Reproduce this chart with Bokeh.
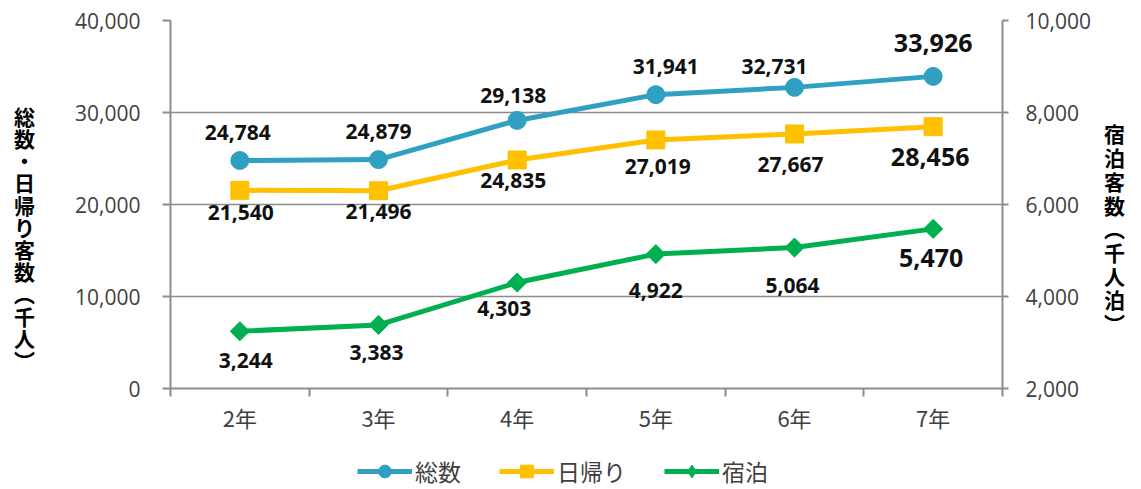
from bokeh.plotting import figure
from bokeh.models import (Range1d, LinearAxis, FixedTicker, NumeralTickFormatter,
                          Legend, LegendItem, ColumnDataSource)
from bokeh.layouts import column
from bokeh.embed import file_html
from bokeh.resources import INLINE
from bokeh.core.properties import value
import math

# ---------------- data ----------------
categories = ["2年", "3年", "4年", "5年", "6年", "7年"]
total = [24784, 24879, 29138, 31941, 32731, 33926]        # 総数 (left axis)
daytrip = [21540, 21496, 24835, 27019, 27667, 28456]      # 日帰り (left axis)
overnight = [3244, 3383, 4303, 4922, 5064, 5470]          # 宿泊 (right axis)
series_names = ["総数", "日帰り", "宿泊"]
left_ticks = [0, 10000, 20000, 30000, 40000]
right_ticks = [2000, 4000, 6000, 8000, 10000]
left_title = "総数・日帰り客数︵千人︶"
right_title = "宿泊客数︵千人泊︶"

# ---------------- label offsets (px, style only) ----------------
total_dx = [-2, 0, -4, 10, -20, 0]
total_dy = [-28, -28, -25, -28, -21, -33]
day_dx = [1, 0, -4, 2, -4, -3]
day_dy = [22, 21, 20, 27, 31, 30]
night_dx = [6, -2, -13, 0, -2, -2]
night_dy = [29, 28, 26, 36, 38, 29]

BLUE = "#2fa0c2"
ORANGE = "#ffc000"
GREEN = "#00b050"
GRAY = "#8c8c8c"
TXT = "#404040"
JP = "Noto Sans CJK JP"
NUM = "Open Sans"

W, H, LH = 1141, 450, 39            # main plot height, legend strip height
FL, FR, FT, FB = 170, 1002, 20, 388   # frame edges in canvas px

p = figure(width=W, height=H, output_backend="svg", toolbar_location=None,
           x_range=Range1d(0, len(categories)), y_range=Range1d(0, 40000),
           min_border_left=FL, min_border_right=W - FR,
           min_border_top=FT, min_border_bottom=H - FB)
p.outline_line_color = None
p.background_fill_color = "white"
p.border_fill_color = "white"

p.extra_y_ranges = {"right": Range1d(2000, 10000)}

xs = [i + 0.5 for i in range(len(categories))]

# grid
p.xgrid.visible = False
p.ygrid.ticker = FixedTicker(ticks=left_ticks)
p.ygrid.grid_line_color = GRAY
p.ygrid.grid_line_width = 1.5

# x axis
xa = p.xaxis[0]
xa.ticker = FixedTicker(ticks=xs, minor_ticks=list(range(len(categories) + 1)))
xa.major_label_overrides = {x: c for x, c in zip(xs, categories)}
xa.major_tick_in = 0
xa.major_tick_out = 0
xa.minor_tick_in = 0
xa.minor_tick_out = 8
xa.minor_tick_line_color = GRAY
xa.minor_tick_line_width = 2
xa.axis_line_color = GRAY
xa.axis_line_width = 2
xa.major_label_standoff = 4
xa.major_label_text_font = JP
xa.major_label_text_font_size = "22px"
xa.major_label_text_color = TXT

# left axis
ya = p.yaxis[0]
ya.ticker = FixedTicker(ticks=left_ticks)
ya.formatter = NumeralTickFormatter(format="0,0")
ya.major_tick_in = 0
ya.major_tick_out = 8
ya.minor_tick_line_color = None
ya.major_tick_line_color = GRAY
ya.major_tick_line_width = 2
ya.axis_line_color = GRAY
ya.axis_line_width = 2
ya.major_label_standoff = 22
ya.major_label_text_font = NUM
ya.major_label_text_font_size = "21px"
ya.major_label_text_color = TXT
ya.axis_label = "\n".join([" "] * 3 + list(left_title))
ya.axis_label_orientation = "horizontal"
ya.axis_label_standoff = 37
ya.axis_label_text_font = JP
ya.axis_label_text_font_style = "bold"
ya.axis_label_text_font_size = "21px"
ya.axis_label_text_color = "#000000"
ya.axis_label_text_line_height = 0.74

# right axis
ra = LinearAxis(y_range_name="right")
ra.ticker = FixedTicker(ticks=right_ticks)
ra.formatter = NumeralTickFormatter(format="0,0")
ra.major_tick_in = 0
ra.major_tick_out = 6
ra.minor_tick_line_color = None
ra.major_tick_line_color = GRAY
ra.major_tick_line_width = 2
ra.axis_line_color = GRAY
ra.axis_line_width = 2
ra.major_label_standoff = 17
ra.major_label_text_font = NUM
ra.major_label_text_font_size = "21px"
ra.major_label_text_color = TXT
ra.axis_label = "\n".join([" "] * 2 + list(right_title))
ra.axis_label_orientation = "horizontal"
ra.axis_label_standoff = 10
ra.axis_label_text_font = JP
ra.axis_label_text_font_style = "bold"
ra.axis_label_text_font_size = "21px"
ra.axis_label_text_color = "#000000"
ra.axis_label_text_line_height = 0.79
p.add_layout(ra, "right")

# series
p.line(xs, total, line_color=BLUE, line_width=5)
p.scatter(xs, total, marker="circle", size=18, fill_color=BLUE, line_color=BLUE)
p.line(xs, daytrip, line_color=ORANGE, line_width=5)
p.scatter(xs, daytrip, marker="square", size=18, fill_color=ORANGE, line_color=ORANGE)
p.line(xs, overnight, line_color=GREEN, line_width=5, y_range_name="right")
p.scatter(xs, overnight, marker="square", size=13.5, angle=math.pi / 4,
          fill_color=GREEN, line_color=GREEN, y_range_name="right")

# data labels
def sizes(n):
    return ["21px"] * (n - 1) + ["25px"]

def add_labels(vals, dx, dy, y_range_name="default"):
    src = ColumnDataSource(dict(x=xs, y=vals, t=[f"{v:,}" for v in vals],
                                dx=dx, dy=dy, fs=sizes(len(vals))))
    p.text(x="x", y="y", text="t", x_offset="dx", y_offset="dy", source=src,
           text_font=value(NUM), text_font_style="bold", text_font_size="fs",
           text_color="#111111", text_align="center", text_baseline="middle",
           y_range_name=y_range_name)

add_labels(total, total_dx, total_dy)
add_labels(daytrip, day_dx, day_dy)
add_labels(overnight, night_dx, night_dy, "right")

# ---------------- legend strip ----------------
lg = figure(width=W, height=LH, output_backend="svg", toolbar_location=None,
            x_range=Range1d(0, 1), y_range=Range1d(0, 1),
            min_border=0, x_axis_type=None, y_axis_type=None)
lg.outline_line_color = None
lg.xgrid.visible = False
lg.ygrid.visible = False
off = [-10]
l1 = lg.line(off, off, line_color=BLUE, line_width=5)
m1 = lg.scatter(off, off, marker="circle", size=18, fill_color=BLUE, line_color=BLUE)
l2 = lg.line(off, off, line_color=ORANGE, line_width=5)
m2 = lg.scatter(off, off, marker="square", size=18, fill_color=ORANGE, line_color=ORANGE)
l3 = lg.line(off, off, line_color=GREEN, line_width=5)
m3 = lg.scatter(off, off, marker="diamond", size=18,
                fill_color=GREEN, line_color=GREEN)
legend = Legend(items=[LegendItem(label=series_names[0], renderers=[l1, m1]),
                       LegendItem(label=series_names[1], renderers=[l2, m2]),
                       LegendItem(label=series_names[2], renderers=[l3, m3])],
                orientation="horizontal", location=(357 - FL, 1),
                glyph_width=55, glyph_height=32, label_standoff=3, spacing=38,
                padding=0, margin=0, border_line_color=None,
                background_fill_alpha=0,
                label_text_font=JP, label_text_font_size="23px",
                label_text_color=TXT)
lg.add_layout(legend, "center")

open("out.html", "w").write(file_html(column(p, lg, spacing=0), INLINE))
